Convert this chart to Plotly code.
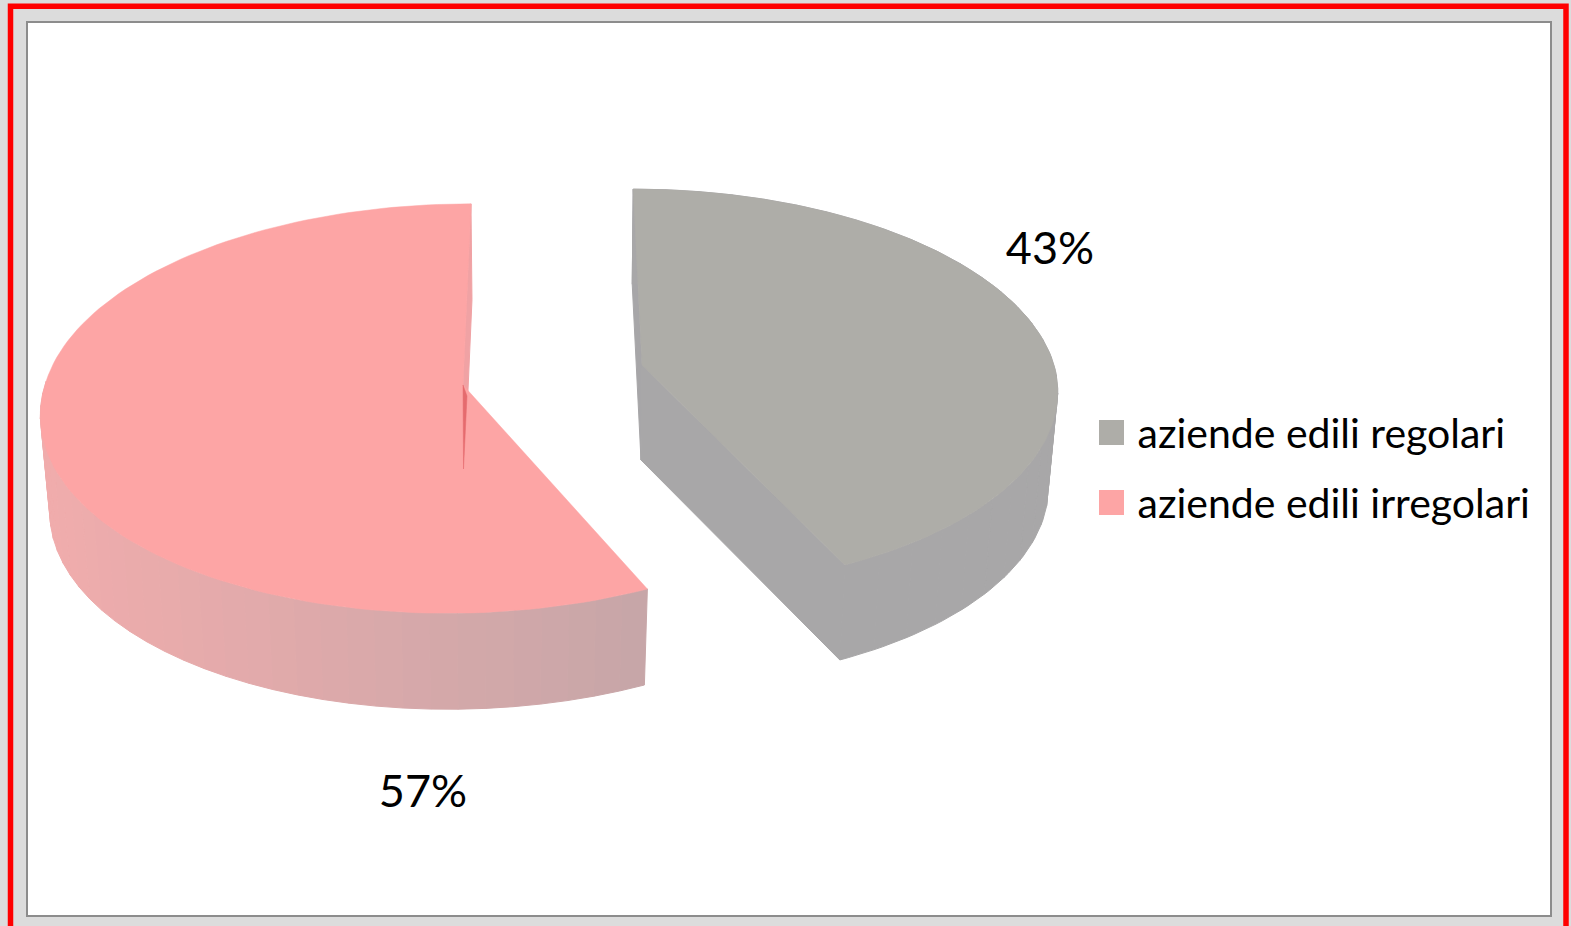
import math
import plotly.graph_objects as go

# --- data ---
categories = ["aziende edili regolari", "aziende edili irregolari"]
values = [43, 57]
percent_labels = ["43%", "57%"]

# --- style / layout ---
W, H = 1571, 926
TOP = ["#aeada8", "#fda5a5"]
WALL = "#a8a7a8"
GEOM = [
    dict(cx=642, cy=365, a=412, b=197, k=0.12, s_up=0.05, s_dn=0.03, depth=95, shrink=0.98, low_dx=-1),
    dict(cx=463, cy=385, a=418, b=202, k=0.115, s_up=-0.044, s_dn=-0.07, depth=96, shrink=0.98, low_dx=1),
]
LABEL_POS = [(1050, 253), (423, 796)]
LEGEND_X = 1111.5
LEGEND_Y = [432.5, 502.5]
LEGEND_TEXT_DY = 5
FONT = "Lato"


def project(g, theta, lower=False):
    """Map a disc angle (clockwise from the back) to the tilted 3D view."""
    r = g["shrink"] if lower else 1.0
    p = 1 / (1 + g["k"] * math.cos(theta))
    dx = g["a"] * r * math.sin(theta) * p
    dy = -g["b"] * math.cos(theta) * p
    s = g["s_up"] if dy < 0 else g["s_dn"]
    x = g["cx"] + dx + s * dy
    y = g["cy"] + dy
    if lower:
        y += g["depth"]
        x += g["low_dx"]
    return x, y


def centre(g, lower=False):
    return (g["cx"] + (g["low_dx"] if lower else 0), g["cy"] + (g["depth"] if lower else 0))


def mix(c1, c2, t):
    return "rgb(%d,%d,%d)" % tuple(round(a + (b - a) * t) for a, b in zip(c1, c2))


total = sum(values)
fig = go.Figure()


def poly(pts, color, lw=1):
    fig.add_trace(go.Scatter(
        x=[p[0] for p in pts] + [pts[0][0]], y=[p[1] for p in pts] + [pts[0][1]],
        mode="lines", fill="toself", fillcolor=color,
        line=dict(color=color, width=lw), hoverinfo="skip", showlegend=False))


start = 0.0
for i, v in enumerate(values):
    g = GEOM[i]
    t0 = start
    t1 = start + v / total * 2 * math.pi
    start = t1
    n = 120
    thetas = [t0 + (t1 - t0) * j / n for j in range(n + 1)]
    top = [project(g, t) for t in thetas]
    bot = [project(g, t, True) for t in thetas]
    vt, vb = centre(g), centre(g, True)

    if i == 0:
        poly([top[0], vt, vb, bot[0]], "#a7a6a8")
        poly([vt, top[-1], bot[-1], vb], WALL)
        step = 4
        for j in range(0, n, step):
            poly(top[j:j + step + 1] + bot[j:j + step + 1][::-1], WALL)
    else:
        poly([vt, top[-1], bot[-1], vb], "#f0a2a4")
        step = 2
        for j in range(0, n, step):
            if top[j][1] < vt[1]:
                continue  # the wall's back part is hidden behind the top surface
            q = top[j:j + step + 1] + bot[j:j + step + 1][::-1]
            xm = (top[j][0] + top[min(j + step, n)][0]) / 2
            t = max(0.0, min(1.0, (xm - 50) / 600))
            poly(q, mix((240, 172, 172), (198, 166, 168), t))
    poly([vt] + top, TOP[i], 0.5)
    if i == 1:
        # the dark sliver where the hidden edge shows through
        poly([vt, (vt[0] + 4, vt[1] + 11), (vt[0] + 0.5, vb[1] - 12)], "#e56b6e", 0.5)

# labels
for (x, y), txt in zip(LABEL_POS, percent_labels):
    fig.add_trace(go.Scatter(x=[x], y=[y], mode="text", text=[txt],
                             textposition="middle center",
                             textfont=dict(family=FONT, size=45, color="#000000"),
                             hoverinfo="skip", showlegend=False))

# legend
for name, color, y in zip(categories, TOP, LEGEND_Y):
    fig.add_trace(go.Scatter(x=[LEGEND_X], y=[y], mode="markers",
                             marker=dict(symbol="square", size=25, color=color),
                             hoverinfo="skip", showlegend=False))
    fig.add_trace(go.Scatter(x=[LEGEND_X + 26], y=[y + LEGEND_TEXT_DY], mode="text", text=[name],
                             textposition="middle right",
                             textfont=dict(family=FONT, size=41, color="#000000"),
                             hoverinfo="skip", showlegend=False))

shapes = [
    dict(type="rect", xref="x", yref="y", x0=27, y0=22, x1=1551, y1=916,
         line=dict(color="#8c8c8c", width=2), fillcolor="#ffffff", layer="below"),
    dict(type="rect", xref="x", yref="y", x0=10.5, y0=6.25, x1=1566, y1=940,
         line=dict(color="#ff0000", width=5.5), fillcolor="rgba(0,0,0,0)", layer="below"),
]

fig.update_layout(
    width=W, height=H, margin=dict(l=0, r=0, t=0, b=0),
    paper_bgcolor="#dcdcdc", plot_bgcolor="rgba(0,0,0,0)",
    xaxis=dict(range=[0, W], visible=False, fixedrange=True),
    yaxis=dict(range=[H, 0], visible=False, fixedrange=True),
    shapes=shapes, showlegend=False,
)
fig.write_html("out.html", config=dict(displayModeBar=False),
               post_script="document.body.style.margin='0';document.body.style.overflow='hidden';")
